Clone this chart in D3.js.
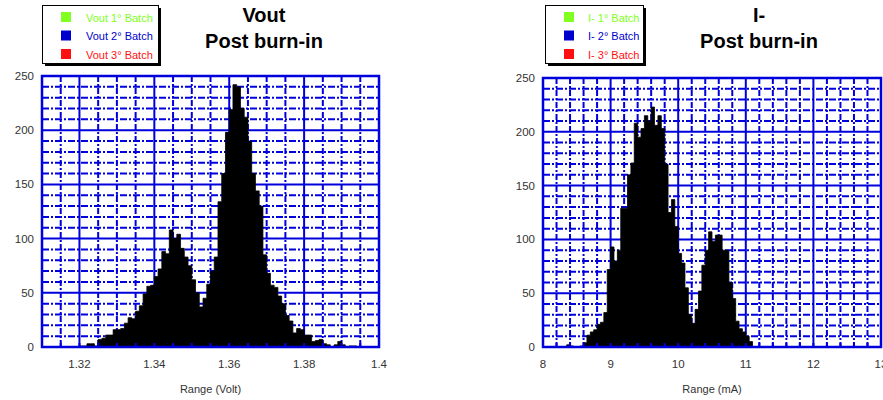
<!DOCTYPE html>
<html>
<head>
<meta charset="utf-8">
<script src="https://cdn.jsdelivr.net/npm/d3@7"></script>
<style>
  body { margin: 0; background: #fff; }
  text { font-family: "Liberation Sans", Arial, sans-serif; }
</style>
</head>
<body>
<svg id="chart" width="883" height="400"></svg>
<script>
// Vout histogram: bins of 0.001 V starting at 1.320
const voutStart = 1.320, voutStep = 0.001;
const voutCounts = [1, 1, 3, 3, 1, 7, 8, 11, 11, 16, 16, 17, 22, 27, 26, 33, 38, 49, 56, 57,
  65, 72, 88, 86, 108, 100, 104, 91, 83, 75, 62, 50, 37, 45, 58, 70, 83, 134, 160, 198,
  219, 242, 240, 220, 212, 190, 160, 144, 130, 85, 68, 57, 55, 47, 40, 29, 24, 13, 17, 16,
  11, 11, 5, 6, 7, 3, 2, 0, 2, 5, 2, 0, 1, 1];

// I- histogram: bins of 0.05 mA starting at 8.30
const iStart = 8.30, iStep = 0.05;
const iCounts = [0, 2, 1, 0, 0, 1, 4, 11, 14, 16, 21, 23, 32, 72, 93, 80, 90, 129, 129, 160,
  171, 208, 195, 203, 215, 210, 223, 206, 215, 203, 170, 125, 137, 112, 87, 78, 55, 30, 22, 35,
  52, 76, 90, 107, 98, 104, 104, 90, 90, 60, 45, 24, 17, 14, 10, 5, 0];

const voutTicks = [1.32, 1.34, 1.36, 1.38, 1.4];
const iTicks = [8, 9, 10, 11, 12, 13];
const yTicks = [0, 50, 100, 150, 200, 250];

const voutLegend = ["Vout 1° Batch", "Vout 2° Batch", "Vout 3° Batch"];
const iLegend = ["I- 1° Batch", "I- 2° Batch", "I- 3° Batch"];
const batchColors = ["#80ff20", "#0000cc", "#ff1010"];

const svg = d3.select("#chart");
const blue = "#0000dd";

function drawPanel(p) {
  const x = d3.scaleLinear().domain(p.xDomain).range(p.xRange);
  const y = d3.scaleLinear().domain([0, 250]).range(p.yRange);
  const g = svg.append("g");

  // minor grid
  const minorX = d3.range(p.xDomain[0], p.xDomain[1] + 1e-9, p.minorStep)
    .filter(v => !p.xTicks.some(t => Math.abs(t - v) < 1e-9));
  const minorY = d3.range(0, 251, 10).filter(v => v % 50 !== 0);

  g.selectAll(".mx").data(minorX).enter().append("line")
    .attr("x1", d => x(d)).attr("x2", d => x(d))
    .attr("y1", y(250)).attr("y2", y(0))
    .attr("stroke", blue).attr("stroke-width", 2)
    .attr("stroke-dasharray", "6,2,2,2");
  g.selectAll(".my").data(minorY).enter().append("line")
    .attr("x1", x(p.xDomain[0])).attr("x2", x(p.xDomain[1]))
    .attr("y1", d => y(d)).attr("y2", d => y(d))
    .attr("stroke", blue).attr("stroke-width", 2)
    .attr("stroke-dasharray", "7,2,2,2");

  // major grid
  g.selectAll(".Mx").data(p.xTicks).enter().append("line")
    .attr("x1", d => x(d)).attr("x2", d => x(d))
    .attr("y1", y(250)).attr("y2", y(0))
    .attr("stroke", blue).attr("stroke-width", 2);
  g.selectAll(".My").data(yTicks).enter().append("line")
    .attr("x1", x(p.xDomain[0])).attr("x2", x(p.xDomain[1]))
    .attr("y1", d => y(d)).attr("y2", d => y(d))
    .attr("stroke", blue).attr("stroke-width", 2);

  // histogram as a solid step area
  const pts = p.counts.map((c, i) => ({ x: p.start + i * p.step, c: c }));
  pts.push({ x: p.start + p.counts.length * p.step, c: 0 });
  const area = d3.area()
    .x(d => x(d.x)).y0(y(0)).y1(d => y(d.c))
    .curve(d3.curveStepAfter);
  g.append("path").datum(pts).attr("d", area)
    .attr("fill", "#000").attr("stroke", "#000").attr("stroke-width", 0.8);

  // small ticks on bottom axis
  g.selectAll(".tk").data(minorX.concat(p.xTicks)).enter().append("line")
    .attr("x1", d => x(d)).attr("x2", d => x(d))
    .attr("y1", y(0)).attr("y2", y(0) - 4)
    .attr("stroke", blue).attr("stroke-width", 2);

  // frame
  g.append("rect")
    .attr("x", x(p.xDomain[0])).attr("y", y(250))
    .attr("width", x(p.xDomain[1]) - x(p.xDomain[0]))
    .attr("height", y(0) - y(250))
    .attr("fill", "none").attr("stroke", blue).attr("stroke-width", 2.5);

  // tick labels
  g.selectAll(".xl").data(p.xTicks).enter().append("text")
    .attr("x", d => x(d)).attr("y", 368)
    .attr("text-anchor", "middle").attr("font-size", "11.5px").attr("fill", "#333")
    .text(d => d);
  g.selectAll(".yl").data(yTicks).enter().append("text")
    .attr("x", x(p.xDomain[0]) - 8).attr("y", d => y(d)).attr("dy", "0.35em")
    .attr("text-anchor", "end").attr("font-size", "11.5px").attr("fill", "#333")
    .text(d => d);

  g.append("text")
    .attr("x", (p.xRange[0] + p.xRange[1]) / 2).attr("y", 393)
    .attr("text-anchor", "middle").attr("font-size", "11px").attr("fill", "#333")
    .text(p.xTitle);

  // title
  p.title.forEach((t, i) => {
    g.append("text")
      .attr("x", p.titleX).attr("y", 21.5 + i * 26.5)
      .attr("text-anchor", "middle").attr("font-size", "20px")
      .attr("font-weight", "bold").attr("fill", "#000")
      .text(t);
  });

  // legend with drop shadow
  const lg = g.append("g").attr("transform", `translate(${p.legend[0]},5)`);
  lg.append("rect").attr("x", 3).attr("y", 3)
    .attr("width", p.legend[1]).attr("height", 58).attr("fill", "#000");
  lg.append("rect").attr("x", 0.5).attr("y", 0.5)
    .attr("width", p.legend[1]).attr("height", 58)
    .attr("fill", "#fff").attr("stroke", "#000").attr("stroke-width", 1);
  p.labels.forEach((lab, i) => {
    lg.append("rect").attr("x", 19).attr("y", 7 + i * 18.5)
      .attr("width", 10).attr("height", 10).attr("fill", batchColors[i]);
    lg.append("text").attr("x", p.legendText).attr("y", 16.5 + i * 18.5)
      .attr("font-size", "11px").attr("fill", batchColors[i])
      .text(lab);
  });
}

drawPanel({
  xDomain: [1.31, 1.40], xRange: [42, 379], yRange: [347, 76],
  xTicks: voutTicks, minorStep: 0.005,
  start: voutStart, step: voutStep, counts: voutCounts,
  xTitle: "Range (Volt)", title: ["Vout", "Post burn-in"], titleX: 264,
  legend: [42, 116], legendText: 44, labels: voutLegend
});

drawPanel({
  xDomain: [8, 13], xRange: [543, 881], yRange: [347, 78],
  xTicks: iTicks, minorStep: 0.2,
  start: iStart, step: iStep, counts: iCounts,
  xTitle: "Range (mA)", title: ["I-", "Post burn-in"], titleX: 759,
  legend: [545, 98], legendText: 43, labels: iLegend
});
</script>
</body>
</html>
